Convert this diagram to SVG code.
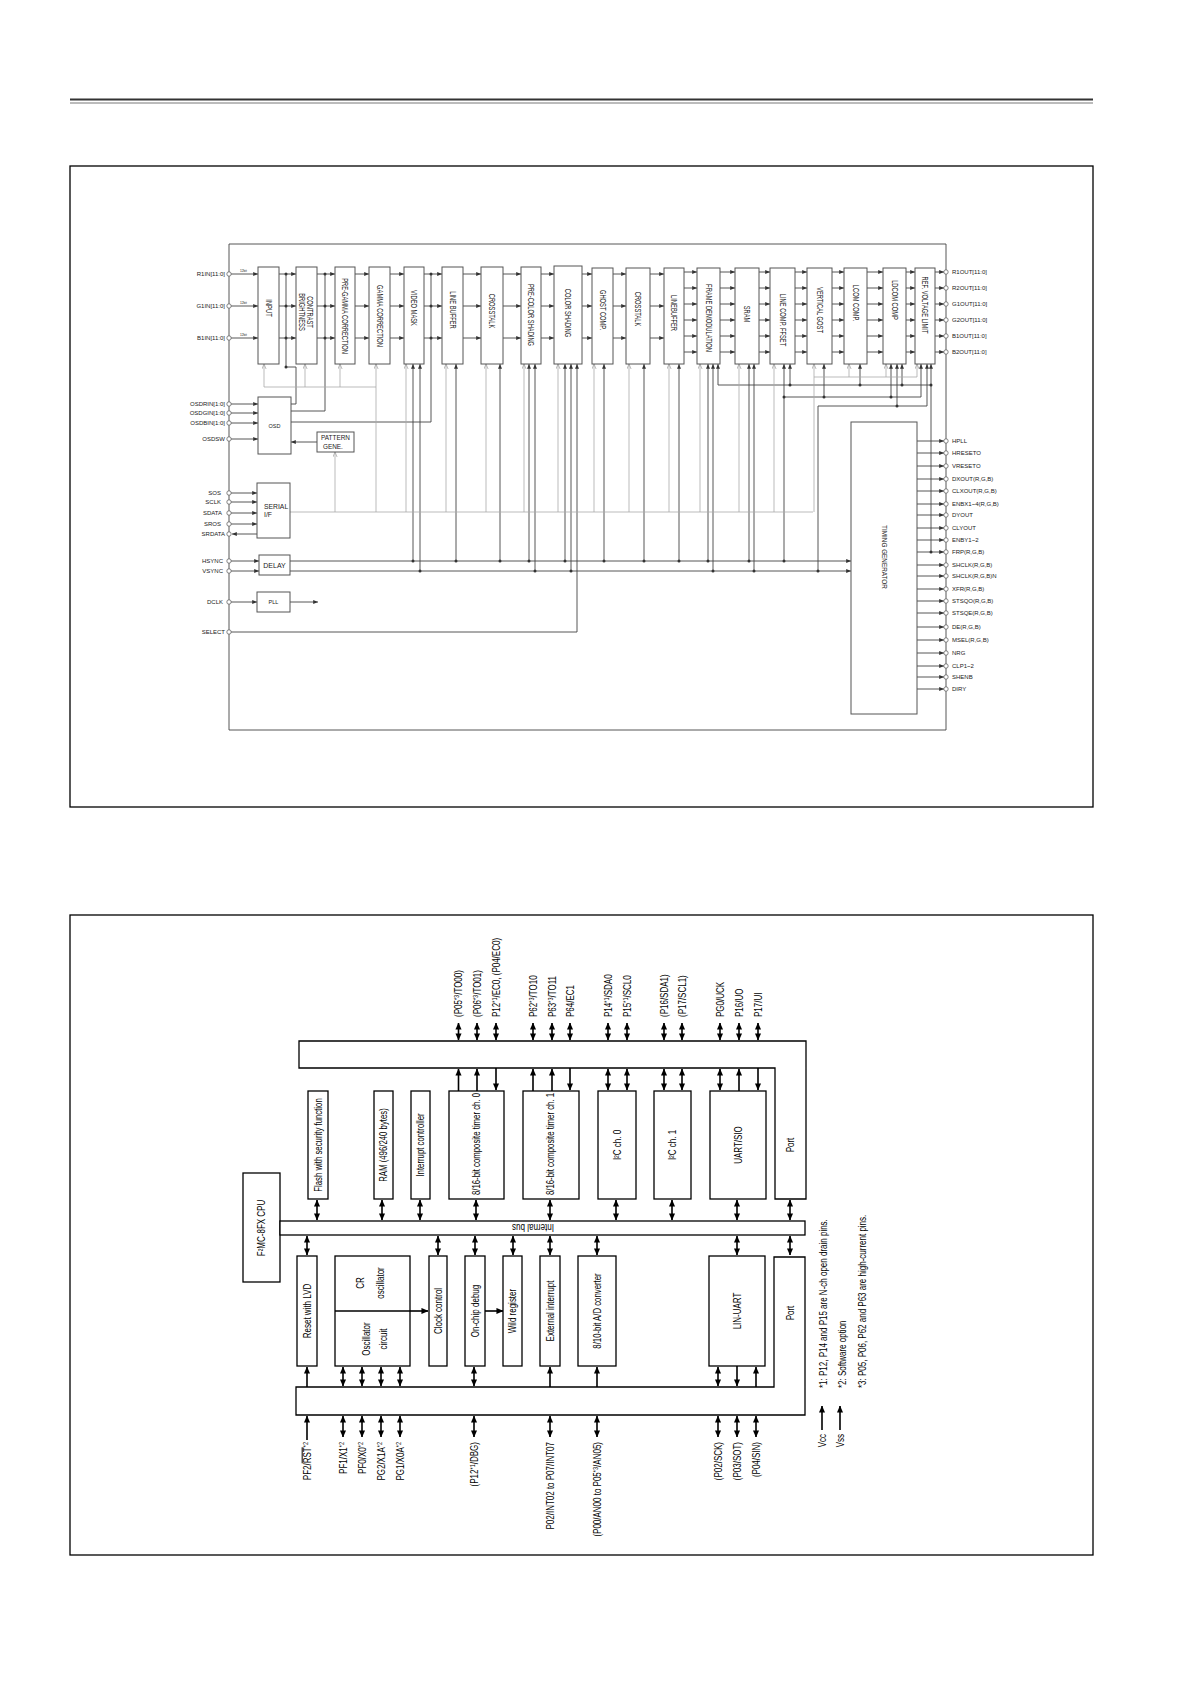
<svg xmlns="http://www.w3.org/2000/svg" width="1191" height="1684" viewBox="0 0 1191 1684">
<defs>
<style>
.frame{fill:none;stroke:#000;stroke-width:1.3}
.tb{fill:#fff;stroke:#555;stroke-width:1}
.tl{fill:none;stroke:#444;stroke-width:0.9}
.tg{fill:none;stroke:#aaa;stroke-width:0.8}
.tt{font-family:"Liberation Sans",Arial,sans-serif;font-size:6px;fill:#222}
.bl{font-family:"Liberation Sans",Arial,sans-serif;font-size:8.5px;fill:#222}
.bb{fill:#fff;stroke:#000;stroke-width:1.3}
.bt{font-family:"Liberation Sans",Arial,sans-serif;font-size:10px;fill:#000}
.ar{fill:none;stroke:#000;stroke-width:1.6}
.dot{fill:#333}
.pin{fill:#fff;stroke:#555;stroke-width:0.7}
</style>
<marker id="ta" viewBox="0 0 6 5" refX="6" refY="2.5" markerWidth="5" markerHeight="4" markerUnits="userSpaceOnUse" orient="auto"><path d="M0,0L6,2.5L0,5z" fill="#333"/></marker>
<marker id="to" viewBox="0 0 6 6" refX="6" refY="3" markerWidth="5" markerHeight="5" markerUnits="userSpaceOnUse" orient="auto"><path d="M0,0.5L6,3L0,5.5" fill="none" stroke="#999" stroke-width="0.8"/></marker>
<marker id="ba" viewBox="0 0 8 8" refX="7.5" refY="4" markerWidth="7" markerHeight="7" markerUnits="userSpaceOnUse" orient="auto-start-reverse"><path d="M0,0.5L8,4L0,7.5z" fill="#000"/></marker>
</defs>
<rect width="1191" height="1684" fill="#fff"/>
<!-- page header -->
<line x1="70" y1="99.5" x2="1093" y2="99.5" stroke="#333" stroke-width="2"/>
<line x1="70" y1="103" x2="1093" y2="103" stroke="#555" stroke-width="0.8"/>
<rect class="frame" x="70" y="166" width="1023" height="641"/>
<rect class="frame" x="70" y="915" width="1023" height="640"/>

<!-- ================= TOP DIAGRAM ================= -->
<g id="top-connectors">
 <path class="tl" d="M229,244H946V730H229Z"/>
 <g class="tl" marker-end="url(#ta)">
  <line x1="231" y1="274" x2="258" y2="274"/><line x1="231" y1="306" x2="258" y2="306"/><line x1="231" y1="338" x2="258" y2="338"/>
  <line x1="231" y1="404" x2="258" y2="404"/><line x1="231" y1="413" x2="258" y2="413"/><line x1="231" y1="423" x2="258" y2="423"/><line x1="231" y1="439" x2="258" y2="439"/>
  <line x1="231" y1="493" x2="257" y2="493"/><line x1="231" y1="502" x2="257" y2="502"/><line x1="231" y1="513" x2="257" y2="513"/><line x1="231" y1="524" x2="257" y2="524"/>
  <line x1="257" y1="534" x2="232" y2="534"/>
  <line x1="231" y1="561" x2="259" y2="561"/><line x1="231" y1="571" x2="259" y2="571"/>
  <line x1="231" y1="602" x2="257" y2="602"/>
  <line x1="290" y1="602" x2="318" y2="602"/>
  <line x1="317" y1="442" x2="291" y2="442"/>
  <line x1="279" y1="274" x2="296" y2="274"/><line x1="279" y1="306" x2="296" y2="306"/><line x1="279" y1="338" x2="296" y2="338"/>
  <line x1="317" y1="274" x2="335" y2="274"/><line x1="317" y1="306" x2="335" y2="306"/><line x1="317" y1="338" x2="335" y2="338"/>
  <line x1="355" y1="274" x2="369" y2="274"/><line x1="355" y1="306" x2="369" y2="306"/><line x1="355" y1="338" x2="369" y2="338"/>
  <line x1="390" y1="274" x2="404" y2="274"/><line x1="390" y1="306" x2="404" y2="306"/><line x1="390" y1="338" x2="404" y2="338"/>
  <line x1="424" y1="274" x2="442" y2="274"/><line x1="424" y1="306" x2="442" y2="306"/><line x1="424" y1="338" x2="442" y2="338"/>
  <line x1="463" y1="274" x2="481" y2="274"/><line x1="463" y1="306" x2="481" y2="306"/><line x1="463" y1="338" x2="481" y2="338"/>
  <line x1="503" y1="274" x2="521" y2="274"/><line x1="503" y1="306" x2="521" y2="306"/><line x1="503" y1="338" x2="521" y2="338"/>
  <line x1="541" y1="274" x2="554" y2="274"/><line x1="541" y1="306" x2="554" y2="306"/><line x1="541" y1="338" x2="554" y2="338"/>
  <line x1="582" y1="274" x2="592" y2="274"/><line x1="582" y1="306" x2="592" y2="306"/><line x1="582" y1="338" x2="592" y2="338"/>
  <line x1="613" y1="274" x2="626" y2="274"/><line x1="613" y1="306" x2="626" y2="306"/><line x1="613" y1="338" x2="626" y2="338"/>
  <line x1="650" y1="274" x2="664" y2="274"/><line x1="650" y1="306" x2="664" y2="306"/><line x1="650" y1="338" x2="664" y2="338"/>
  <line x1="684" y1="272" x2="697" y2="272"/><line x1="684" y1="288" x2="697" y2="288"/><line x1="684" y1="304" x2="697" y2="304"/><line x1="684" y1="320" x2="697" y2="320"/><line x1="684" y1="336" x2="697" y2="336"/><line x1="684" y1="352" x2="697" y2="352"/>
  <line x1="720" y1="272" x2="735" y2="272"/><line x1="720" y1="288" x2="735" y2="288"/><line x1="720" y1="304" x2="735" y2="304"/><line x1="720" y1="320" x2="735" y2="320"/><line x1="720" y1="336" x2="735" y2="336"/><line x1="720" y1="352" x2="735" y2="352"/>
  <line x1="759" y1="272" x2="770" y2="272"/><line x1="759" y1="288" x2="770" y2="288"/><line x1="759" y1="304" x2="770" y2="304"/><line x1="759" y1="320" x2="770" y2="320"/><line x1="759" y1="336" x2="770" y2="336"/><line x1="759" y1="352" x2="770" y2="352"/>
  <line x1="795" y1="272" x2="807" y2="272"/><line x1="795" y1="288" x2="807" y2="288"/><line x1="795" y1="304" x2="807" y2="304"/><line x1="795" y1="320" x2="807" y2="320"/><line x1="795" y1="336" x2="807" y2="336"/><line x1="795" y1="352" x2="807" y2="352"/>
  <line x1="832" y1="272" x2="844" y2="272"/><line x1="832" y1="288" x2="844" y2="288"/><line x1="832" y1="304" x2="844" y2="304"/><line x1="832" y1="320" x2="844" y2="320"/><line x1="832" y1="336" x2="844" y2="336"/><line x1="832" y1="352" x2="844" y2="352"/>
  <line x1="867" y1="272" x2="883" y2="272"/><line x1="867" y1="288" x2="883" y2="288"/><line x1="867" y1="304" x2="883" y2="304"/><line x1="867" y1="320" x2="883" y2="320"/><line x1="867" y1="336" x2="883" y2="336"/><line x1="867" y1="352" x2="883" y2="352"/>
  <line x1="906" y1="272" x2="915" y2="272"/><line x1="906" y1="288" x2="915" y2="288"/><line x1="906" y1="304" x2="915" y2="304"/><line x1="906" y1="320" x2="915" y2="320"/><line x1="906" y1="336" x2="915" y2="336"/><line x1="906" y1="352" x2="915" y2="352"/>
  <line x1="935" y1="272" x2="944" y2="272"/><line x1="935" y1="288" x2="944" y2="288"/><line x1="935" y1="304" x2="944" y2="304"/><line x1="935" y1="320" x2="944" y2="320"/><line x1="935" y1="336" x2="944" y2="336"/><line x1="935" y1="352" x2="944" y2="352"/>
  <line x1="290" y1="561" x2="851" y2="561"/><line x1="290" y1="571" x2="851" y2="571"/>
  <path d="M231,632H577V364"/>
  <line x1="413" y1="561" x2="413" y2="364"/><line x1="420" y1="571" x2="420" y2="364"/>
  <line x1="456" y1="561" x2="456" y2="364"/><line x1="500" y1="561" x2="500" y2="364"/>
  <line x1="529" y1="561" x2="529" y2="364"/><line x1="535" y1="571" x2="535" y2="364"/>
  <line x1="565" y1="561" x2="565" y2="364"/><line x1="571" y1="571" x2="571" y2="364"/>
  <line x1="604" y1="561" x2="604" y2="364"/><line x1="644" y1="561" x2="644" y2="364"/>
  <line x1="679" y1="561" x2="679" y2="364"/><line x1="708" y1="561" x2="708" y2="364"/>
  <line x1="713" y1="571" x2="713" y2="364"/><line x1="718" y1="385" x2="718" y2="364"/>
  <line x1="749" y1="561" x2="749" y2="364"/><line x1="754" y1="571" x2="754" y2="364"/>
  <line x1="784" y1="561" x2="784" y2="364"/><line x1="790" y1="385" x2="790" y2="364"/>
  <line x1="824" y1="397" x2="824" y2="364"/><line x1="860" y1="385" x2="860" y2="364"/>
  <line x1="891" y1="397" x2="891" y2="364"/><line x1="897" y1="406" x2="897" y2="364"/>
  <line x1="902" y1="385" x2="902" y2="364"/><line x1="921" y1="397" x2="921" y2="364"/>
  <line x1="927" y1="406" x2="927" y2="364"/><line x1="931" y1="552" x2="931" y2="364"/>
  <line x1="917" y1="441" x2="944" y2="441"/><line x1="917" y1="453" x2="944" y2="453"/><line x1="917" y1="466" x2="944" y2="466"/>
  <line x1="917" y1="479" x2="944" y2="479"/><line x1="917" y1="491" x2="944" y2="491"/><line x1="917" y1="504" x2="944" y2="504"/>
  <line x1="917" y1="515" x2="944" y2="515"/><line x1="917" y1="528" x2="944" y2="528"/><line x1="917" y1="540" x2="944" y2="540"/>
  <line x1="917" y1="552" x2="944" y2="552"/><line x1="917" y1="565" x2="944" y2="565"/><line x1="917" y1="576" x2="944" y2="576"/>
  <line x1="917" y1="589" x2="944" y2="589"/><line x1="917" y1="601" x2="944" y2="601"/><line x1="917" y1="613" x2="944" y2="613"/>
  <line x1="917" y1="627" x2="944" y2="627"/><line x1="917" y1="640" x2="944" y2="640"/><line x1="917" y1="653" x2="944" y2="653"/>
  <line x1="917" y1="666" x2="944" y2="666"/><line x1="917" y1="677" x2="944" y2="677"/><line x1="917" y1="689" x2="944" y2="689"/>
 </g>
 <g class="tl">
  <path d="M718,385H931M784,397H921M818,406H927M818,406V571"/>
  <path d="M286,274V367H296V404H291"/>
  <path d="M325,274V411H291"/>
  <path d="M431,274V422H291"/>
 </g>
 <g class="tg">
  <path d="M290,512H813"/>
  <path d="M376,387H264M814,377H917"/>
 </g>
 <g class="tg" marker-end="url(#to)">
  <line x1="335" y1="512" x2="335" y2="452"/>
  <line x1="264" y1="387" x2="264" y2="364"/><line x1="305" y1="387" x2="305" y2="364"/><line x1="340" y1="387" x2="340" y2="364"/>
  <line x1="376" y1="512" x2="376" y2="364"/><line x1="406" y1="512" x2="406" y2="364"/><line x1="446" y1="512" x2="446" y2="364"/>
  <line x1="486" y1="512" x2="486" y2="364"/><line x1="524" y1="512" x2="524" y2="364"/><line x1="558" y1="512" x2="558" y2="364"/>
  <line x1="594" y1="512" x2="594" y2="364"/><line x1="629" y1="512" x2="629" y2="364"/><line x1="669" y1="512" x2="669" y2="364"/>
  <line x1="700" y1="512" x2="700" y2="364"/><line x1="739" y1="512" x2="739" y2="364"/><line x1="774" y1="512" x2="774" y2="364"/>
  <line x1="814" y1="512" x2="814" y2="364"/>
  <line x1="849" y1="377" x2="849" y2="364"/><line x1="886" y1="377" x2="886" y2="364"/><line x1="917" y1="377" x2="917" y2="364"/>
 </g>
 <g class="dot">
  <circle cx="286" cy="274" r="1.5"/><circle cx="286" cy="306" r="1.5"/><circle cx="286" cy="338" r="1.5"/><circle cx="286" cy="367" r="1.5"/>
  <circle cx="325" cy="274" r="1.5"/><circle cx="325" cy="306" r="1.5"/><circle cx="325" cy="338" r="1.5"/>
  <circle cx="431" cy="274" r="1.5"/><circle cx="431" cy="306" r="1.5"/><circle cx="431" cy="338" r="1.5"/>
  <circle cx="413" cy="561" r="1.5"/><circle cx="456" cy="561" r="1.5"/><circle cx="500" cy="561" r="1.5"/><circle cx="529" cy="561" r="1.5"/>
  <circle cx="565" cy="561" r="1.5"/><circle cx="604" cy="561" r="1.5"/><circle cx="644" cy="561" r="1.5"/><circle cx="679" cy="561" r="1.5"/>
  <circle cx="708" cy="561" r="1.5"/><circle cx="749" cy="561" r="1.5"/><circle cx="784" cy="561" r="1.5"/>
  <circle cx="420" cy="571" r="1.5"/><circle cx="535" cy="571" r="1.5"/><circle cx="571" cy="571" r="1.5"/><circle cx="713" cy="571" r="1.5"/>
  <circle cx="754" cy="571" r="1.5"/><circle cx="818" cy="571" r="1.5"/>
  <circle cx="790" cy="385" r="1.5"/><circle cx="860" cy="385" r="1.5"/><circle cx="902" cy="385" r="1.5"/><circle cx="931" cy="385" r="1.5"/>
  <circle cx="784" cy="397" r="1.5"/><circle cx="824" cy="397" r="1.5"/><circle cx="891" cy="397" r="1.5"/>
  <circle cx="897" cy="406" r="1.5"/><circle cx="931" cy="552" r="1.5"/>
 </g>
 <g class="pin">
  <circle cx="229" cy="274" r="2.2"/><circle cx="229" cy="306" r="2.2"/><circle cx="229" cy="338" r="2.2"/>
  <circle cx="229" cy="404" r="2.2"/><circle cx="229" cy="413" r="2.2"/><circle cx="229" cy="423" r="2.2"/><circle cx="229" cy="439" r="2.2"/>
  <circle cx="229" cy="493" r="2.2"/><circle cx="229" cy="502" r="2.2"/><circle cx="229" cy="513" r="2.2"/><circle cx="229" cy="524" r="2.2"/><circle cx="229" cy="534" r="2.2"/>
  <circle cx="229" cy="561" r="2.2"/><circle cx="229" cy="571" r="2.2"/><circle cx="229" cy="602" r="2.2"/><circle cx="229" cy="632" r="2.2"/>
  <circle cx="946" cy="272" r="2.2"/><circle cx="946" cy="288" r="2.2"/><circle cx="946" cy="304" r="2.2"/><circle cx="946" cy="320" r="2.2"/><circle cx="946" cy="336" r="2.2"/><circle cx="946" cy="352" r="2.2"/>
  <circle cx="946" cy="441" r="2.2"/><circle cx="946" cy="453" r="2.2"/><circle cx="946" cy="466" r="2.2"/><circle cx="946" cy="479" r="2.2"/><circle cx="946" cy="491" r="2.2"/>
  <circle cx="946" cy="504" r="2.2"/><circle cx="946" cy="515" r="2.2"/><circle cx="946" cy="528" r="2.2"/><circle cx="946" cy="540" r="2.2"/><circle cx="946" cy="552" r="2.2"/>
  <circle cx="946" cy="565" r="2.2"/><circle cx="946" cy="576" r="2.2"/><circle cx="946" cy="589" r="2.2"/><circle cx="946" cy="601" r="2.2"/><circle cx="946" cy="613" r="2.2"/>
  <circle cx="946" cy="627" r="2.2"/><circle cx="946" cy="640" r="2.2"/><circle cx="946" cy="653" r="2.2"/><circle cx="946" cy="666" r="2.2"/><circle cx="946" cy="677" r="2.2"/><circle cx="946" cy="689" r="2.2"/>
 </g>
</g>

<g id="top-pin-labels" class="tt">
 <g text-anchor="end">
  <text x="225" y="276">R1IN[11:0]</text><text x="225" y="308">G1IN[11:0]</text><text x="225" y="340">B1IN[11:0]</text>
  <text x="225" y="406">OSDRIN[1:0]</text><text x="225" y="415">OSDGIN[1:0]</text><text x="225" y="425">OSDBIN[1:0]</text><text x="225" y="441">OSDSW</text>
  <text x="221" y="495">SOS</text><text x="221" y="504">SCLK</text><text x="222" y="515">SDATA</text><text x="221" y="526">SROS</text><text x="225" y="536">SRDATA</text>
  <text x="223" y="563">HSYNC</text><text x="223" y="573">VSYNC</text><text x="223" y="604">DCLK</text><text x="225" y="634">SELECT</text>
 </g>
 <g style="font-size:3.2px">
  <text x="240" y="272">12bit</text><text x="240" y="304">12bit</text><text x="240" y="336">12bit</text>
 </g>
 <text x="952" y="274">R1OUT[11:0]</text><text x="952" y="290">R2OUT[11:0]</text><text x="952" y="306">G1OUT[11:0]</text>
 <text x="952" y="322">G2OUT[11:0]</text><text x="952" y="338">B1OUT[11:0]</text><text x="952" y="354">B2OUT[11:0]</text>
 <text x="952" y="443">HPLL</text><text x="952" y="455">HRESETO</text><text x="952" y="468">VRESETO</text>
 <text x="952" y="481">DXOUT(R,G,B)</text><text x="952" y="493">CLXOUT(R,G,B)</text><text x="952" y="506">ENBX1~4(R,G,B)</text>
 <text x="952" y="517">DYOUT</text><text x="952" y="530">CLYOUT</text><text x="952" y="542">ENBY1~2</text>
 <text x="952" y="554">FRP(R,G,B)</text><text x="952" y="567">SHCLK(R,G,B)</text><text x="952" y="578">SHCLK(R,G,B)N</text>
 <text x="952" y="591">XFR(R,G,B)</text><text x="952" y="603">STSQO(R,G,B)</text><text x="952" y="615">STSQE(R,G,B)</text>
 <text x="952" y="629">DE(R,G,B)</text><text x="952" y="642">MSEL(R,G,B)</text><text x="952" y="655">NRG</text>
 <text x="952" y="668">CLP1~2</text><text x="952" y="679">SHENB</text><text x="952" y="691">DIRY</text>
</g>

<g id="t-input"><rect class="tb" x="258" y="267" width="21" height="97"/><text class="bl" text-anchor="middle" dy="0.35em" transform="translate(268.5,308) rotate(90) scale(0.68,1)">INPUT</text></g>
<g id="t-contrast"><rect class="tb" x="296" y="267" width="21" height="97"/><text class="bl" text-anchor="middle" dy="0.35em" transform="translate(310,312) rotate(90) scale(0.68,1)">CONTRAST</text><text class="bl" text-anchor="middle" dy="0.35em" transform="translate(302,312) rotate(90) scale(0.68,1)">BRIGHTNESS</text></g>
<g id="t-pregamma"><rect class="tb" x="335" y="267" width="20" height="97"/><text class="bl" text-anchor="middle" dy="0.35em" transform="translate(345,316) rotate(90) scale(0.68,1)">PRE-GAMMA CORRECTION</text></g>
<g id="t-gamma"><rect class="tb" x="369" y="267" width="21" height="97"/><text class="bl" text-anchor="middle" dy="0.35em" transform="translate(379.5,316) rotate(90) scale(0.68,1)">GAMMA CORRECTION</text></g>
<g id="t-videomask"><rect class="tb" x="404" y="267" width="20" height="97"/><text class="bl" text-anchor="middle" dy="0.35em" transform="translate(414,308) rotate(90) scale(0.68,1)">VIDEO MASK</text></g>
<g id="t-linebuffer"><rect class="tb" x="442" y="267" width="21" height="97"/><text class="bl" text-anchor="middle" dy="0.35em" transform="translate(452.5,310) rotate(90) scale(0.68,1)">LINE BUFFER</text></g>
<g id="t-crosstalk1"><rect class="tb" x="481" y="267" width="22" height="97"/><text class="bl" text-anchor="middle" dy="0.35em" transform="translate(492,311) rotate(90) scale(0.68,1)">CROSSTALK</text></g>
<g id="t-precolor"><rect class="tb" x="521" y="267" width="20" height="97"/><text class="bl" text-anchor="middle" dy="0.35em" transform="translate(531,315) rotate(90) scale(0.68,1)">PRE-COLOR SHADING</text></g>
<g id="t-colorshading"><rect class="tb" x="554" y="266" width="28" height="98"/><text class="bl" text-anchor="middle" dy="0.35em" transform="translate(568,313) rotate(90) scale(0.68,1)">COLOR SHADING</text></g>
<g id="t-ghost"><rect class="tb" x="592" y="268" width="21" height="96"/><text class="bl" text-anchor="middle" dy="0.35em" transform="translate(602.5,310) rotate(90) scale(0.68,1)">GHOST COMP.</text></g>
<g id="t-crosstalk2"><rect class="tb" x="626" y="268" width="24" height="96"/><text class="bl" text-anchor="middle" dy="0.35em" transform="translate(638,309) rotate(90) scale(0.68,1)">CROSSTALK</text></g>
<g id="t-linebuffer2"><rect class="tb" x="664" y="268" width="20" height="96"/><text class="bl" text-anchor="middle" dy="0.35em" transform="translate(674,313) rotate(90) scale(0.68,1)">LINEBUFFER</text></g>
<g id="t-framedemod"><rect class="tb" x="697" y="268" width="23" height="96"/><text class="bl" text-anchor="middle" dy="0.35em" transform="translate(708.5,318) rotate(90) scale(0.68,1)">FRAME DEMODULATION</text></g>
<g id="t-sram"><rect class="tb" x="735" y="268" width="24" height="96"/><text class="bl" text-anchor="middle" dy="0.35em" transform="translate(747,314) rotate(90) scale(0.68,1)">SRAM</text></g>
<g id="t-linecomp"><rect class="tb" x="770" y="268" width="25" height="96"/><text class="bl" text-anchor="middle" dy="0.35em" transform="translate(782.5,320) rotate(90) scale(0.68,1)">LINE COMP. FFSET</text></g>
<g id="t-vertical"><rect class="tb" x="807" y="268" width="25" height="96"/><text class="bl" text-anchor="middle" dy="0.35em" transform="translate(819.5,310) rotate(90) scale(0.68,1)">VERTICAL GOST</text></g>
<g id="t-lcom"><rect class="tb" x="844" y="268" width="23" height="96"/><text class="bl" text-anchor="middle" dy="0.35em" transform="translate(855.5,303) rotate(90) scale(0.68,1)">LCOM COMP.</text></g>
<g id="t-ldcom"><rect class="tb" x="883" y="268" width="23" height="96"/><text class="bl" text-anchor="middle" dy="0.35em" transform="translate(894.5,300) rotate(90) scale(0.68,1)">LDCOM COMP</text></g>
<g id="t-refvolt"><rect class="tb" x="915" y="268" width="20" height="96"/><text class="bl" text-anchor="middle" dy="0.35em" transform="translate(925,305) rotate(90) scale(0.68,1)">REF. VOLTAGE LIMIT</text></g>

<g id="t-osd"><rect class="tb" x="258" y="397" width="33" height="57"/><text class="tt" x="274.5" y="428" text-anchor="middle" style="font-size:5.5px">OSD</text></g>
<g id="t-pattern"><rect class="tb" x="317" y="432" width="37" height="20"/><text class="tt" x="321" y="440" style="font-size:6.4px">PATTERN</text><text class="tt" x="323" y="449" style="font-size:6.4px">GENE.</text></g>
<g id="t-serial"><rect class="tb" x="257" y="483" width="33" height="55"/><text class="tt" x="264" y="509" style="font-size:6.8px">SERIAL</text><text class="tt" x="264" y="517" style="font-size:6.8px">I/F</text></g>
<g id="t-delay"><rect class="tb" x="259" y="555" width="31" height="20"/><text class="tt" x="274.5" y="568" text-anchor="middle" style="font-size:7px">DELAY</text></g>
<g id="t-pll"><rect class="tb" x="257" y="592" width="33" height="20"/><text class="tt" x="273.5" y="604" text-anchor="middle" style="font-size:5.5px">PLL</text></g>
<g id="t-timing"><rect class="tb" x="851" y="422" width="66" height="292"/><text class="tt" text-anchor="middle" dy="0.35em" style="font-size:7.5px" transform="translate(885,557) rotate(90) scale(0.85,1)">TIMING GENERATOR</text></g>

<!-- ================= BOTTOM DIAGRAM ================= -->
<g id="bottom-connectors">
 <path class="bb" d="M299,1041H806V1199H775V1068H299Z"/>
 <path class="bb" d="M774,1257H805V1415H296V1387H774Z"/>
 <g class="ar" marker-start="url(#ba)" marker-end="url(#ba)">
  <line x1="458.5" y1="1023" x2="458.5" y2="1040"/><line x1="477" y1="1023" x2="477" y2="1040"/><line x1="496" y1="1023" x2="496" y2="1040"/>
  <line x1="533" y1="1023" x2="533" y2="1040"/><line x1="552" y1="1023" x2="552" y2="1040"/><line x1="570" y1="1023" x2="570" y2="1040"/>
  <line x1="608" y1="1023" x2="608" y2="1040"/><line x1="627" y1="1023" x2="627" y2="1040"/><line x1="664" y1="1023" x2="664" y2="1040"/>
  <line x1="682" y1="1023" x2="682" y2="1040"/><line x1="720" y1="1023" x2="720" y2="1040"/><line x1="739" y1="1023" x2="739" y2="1040"/>
  <line x1="758" y1="1023" x2="758" y2="1040"/>
  <line x1="608" y1="1069" x2="608" y2="1090"/><line x1="627" y1="1069" x2="627" y2="1090"/><line x1="664" y1="1069" x2="664" y2="1090"/>
  <line x1="682" y1="1069" x2="682" y2="1090"/><line x1="720" y1="1069" x2="720" y2="1090"/>
  <line x1="317" y1="1200" x2="317" y2="1220"/><line x1="382" y1="1200" x2="382" y2="1220"/><line x1="420" y1="1200" x2="420" y2="1220"/>
  <line x1="476" y1="1200" x2="476" y2="1220"/><line x1="550" y1="1200" x2="550" y2="1220"/><line x1="616" y1="1200" x2="616" y2="1220"/>
  <line x1="672" y1="1200" x2="672" y2="1220"/><line x1="737" y1="1200" x2="737" y2="1220"/><line x1="790" y1="1200" x2="790" y2="1220"/>
  <line x1="307" y1="1236" x2="307" y2="1255"/><line x1="438" y1="1236" x2="438" y2="1255"/><line x1="475" y1="1236" x2="475" y2="1255"/>
  <line x1="513" y1="1236" x2="513" y2="1255"/><line x1="550" y1="1236" x2="550" y2="1255"/><line x1="597" y1="1236" x2="597" y2="1255"/>
  <line x1="737" y1="1236" x2="737" y2="1255"/><line x1="790" y1="1236" x2="790" y2="1255"/>
  <line x1="343" y1="1367" x2="343" y2="1386"/><line x1="362" y1="1367" x2="362" y2="1386"/><line x1="381" y1="1367" x2="381" y2="1386"/>
  <line x1="400" y1="1367" x2="400" y2="1386"/><line x1="474" y1="1367" x2="474" y2="1386"/><line x1="718" y1="1367" x2="718" y2="1386"/>
  <line x1="343" y1="1416" x2="343" y2="1437"/><line x1="362" y1="1416" x2="362" y2="1437"/><line x1="381" y1="1416" x2="381" y2="1437"/>
  <line x1="400" y1="1416" x2="400" y2="1437"/><line x1="474" y1="1416" x2="474" y2="1437"/><line x1="550" y1="1416" x2="550" y2="1437"/>
  <line x1="597" y1="1416" x2="597" y2="1437"/><line x1="718" y1="1416" x2="718" y2="1437"/><line x1="737" y1="1416" x2="737" y2="1437"/>
  <line x1="756" y1="1416" x2="756" y2="1437"/>
 </g>
 <g class="ar" marker-end="url(#ba)">
  <line x1="458.5" y1="1091" x2="458.5" y2="1069"/><line x1="477" y1="1091" x2="477" y2="1069"/>
  <line x1="533" y1="1091" x2="533" y2="1069"/><line x1="552" y1="1091" x2="552" y2="1069"/>
  <line x1="739" y1="1091" x2="739" y2="1069"/>
  <line x1="496" y1="1068" x2="496" y2="1090"/><line x1="570" y1="1068" x2="570" y2="1090"/><line x1="758" y1="1068" x2="758" y2="1090"/>
  <line x1="307" y1="1387" x2="307" y2="1367"/><line x1="550" y1="1387" x2="550" y2="1367"/><line x1="597" y1="1387" x2="597" y2="1367"/>
  <line x1="756" y1="1387" x2="756" y2="1367"/><line x1="737" y1="1366" x2="737" y2="1386"/>
  <line x1="307" y1="1440" x2="307" y2="1416"/>
  <line x1="410" y1="1311" x2="428" y2="1311"/><line x1="485" y1="1311" x2="503" y2="1311"/>
  <line x1="822" y1="1430" x2="822" y2="1406"/><line x1="840" y1="1430" x2="840" y2="1406"/>
 </g>
</g>

<g id="b-cpu"><rect class="bb" x="243" y="1173" width="37" height="109"/><text class="bt" text-anchor="middle" dy="0.35em" transform="translate(261.5,1228) rotate(-90) scale(0.8,1)">F²MC-8FX CPU</text></g>
<g id="b-bus"><rect class="bb" x="280" y="1221" width="525" height="14"/><text class="bt" text-anchor="middle" dy="0.35em" transform="translate(533,1228) rotate(180) scale(0.8,1)">Internal bus</text></g>
<g id="b-flash"><rect class="bb" x="308" y="1091" width="20" height="108"/><text class="bt" text-anchor="middle" dy="0.35em" transform="translate(318,1145) rotate(-90) scale(0.78,1)">Flash with security function</text></g>
<g id="b-ram"><rect class="bb" x="374" y="1091" width="19" height="108"/><text class="bt" text-anchor="middle" dy="0.35em" transform="translate(383.5,1145) rotate(-90) scale(0.78,1)">RAM (496/240 bytes)</text></g>
<g id="b-intc"><rect class="bb" x="411" y="1091" width="19" height="108"/><text class="bt" text-anchor="middle" dy="0.35em" transform="translate(420.5,1145) rotate(-90) scale(0.78,1)">Interrupt controller</text></g>
<g id="b-timer0"><rect class="bb" x="449" y="1091" width="55" height="108"/><text class="bt" text-anchor="middle" dy="0.35em" transform="translate(476,1144) rotate(-90) scale(0.78,1)">8/16-bit composite timer ch. 0</text></g>
<g id="b-timer1"><rect class="bb" x="523" y="1091" width="56" height="108"/><text class="bt" text-anchor="middle" dy="0.35em" transform="translate(550,1144) rotate(-90) scale(0.78,1)">8/16-bit composite timer ch. 1</text></g>
<g id="b-i2c0"><rect class="bb" x="598" y="1091" width="38" height="108"/><text class="bt" text-anchor="middle" dy="0.35em" transform="translate(617,1145) rotate(-90) scale(0.8,1)">I²C ch. 0</text></g>
<g id="b-i2c1"><rect class="bb" x="654" y="1091" width="37" height="108"/><text class="bt" text-anchor="middle" dy="0.35em" transform="translate(672.5,1145) rotate(-90) scale(0.8,1)">I²C ch. 1</text></g>
<g id="b-uart"><rect class="bb" x="710" y="1091" width="56" height="108"/><text class="bt" text-anchor="middle" dy="0.35em" transform="translate(738,1145) rotate(-90) scale(0.8,1)">UART/SIO</text></g>
<g id="b-port1"><text class="bt" text-anchor="middle" dy="0.35em" transform="translate(790.5,1145) rotate(-90) scale(0.8,1)">Port</text></g>
<g id="b-reset"><rect class="bb" x="297" y="1256" width="20" height="110"/><text class="bt" text-anchor="middle" dy="0.35em" transform="translate(307,1311) rotate(-90) scale(0.8,1)">Reset with LVD</text></g>
<g id="b-osc"><rect class="bb" x="335" y="1256" width="75" height="110"/><line x1="335" y1="1311" x2="410" y2="1311" stroke="#000" stroke-width="1.6"/>
 <text class="bt" text-anchor="middle" dy="0.35em" transform="translate(360,1283) rotate(-90) scale(0.8,1)">CR</text>
 <text class="bt" text-anchor="middle" dy="0.35em" transform="translate(380,1283) rotate(-90) scale(0.8,1)">oscillator</text>
 <text class="bt" text-anchor="middle" dy="0.35em" transform="translate(366,1339) rotate(-90) scale(0.8,1)">Oscillator</text>
 <text class="bt" text-anchor="middle" dy="0.35em" transform="translate(383,1339) rotate(-90) scale(0.8,1)">circuit</text></g>
<g id="b-clock"><rect class="bb" x="429" y="1256" width="18" height="110"/><text class="bt" text-anchor="middle" dy="0.35em" transform="translate(438,1311) rotate(-90) scale(0.8,1)">Clock control</text></g>
<g id="b-debug"><rect class="bb" x="465" y="1256" width="20" height="110"/><text class="bt" text-anchor="middle" dy="0.35em" transform="translate(475,1311) rotate(-90) scale(0.8,1)">On-chip debug</text></g>
<g id="b-wild"><rect class="bb" x="503" y="1256" width="19" height="110"/><text class="bt" text-anchor="middle" dy="0.35em" transform="translate(512.5,1311) rotate(-90) scale(0.8,1)">Wild register</text></g>
<g id="b-extint"><rect class="bb" x="540" y="1256" width="20" height="110"/><text class="bt" text-anchor="middle" dy="0.35em" transform="translate(550,1311) rotate(-90) scale(0.8,1)">External interrupt</text></g>
<g id="b-adc"><rect class="bb" x="578" y="1256" width="38" height="110"/><text class="bt" text-anchor="middle" dy="0.35em" transform="translate(597,1311) rotate(-90) scale(0.78,1)">8/10-bit A/D converter</text></g>
<g id="b-linuart"><rect class="bb" x="709" y="1256" width="56" height="110"/><text class="bt" text-anchor="middle" dy="0.35em" transform="translate(737,1311) rotate(-90) scale(0.8,1)">LIN-UART</text></g>
<g id="b-port2"><text class="bt" text-anchor="middle" dy="0.35em" transform="translate(790,1313) rotate(-90) scale(0.8,1)">Port</text></g>

<g id="bottom-pin-labels" class="bt">
 <g>
  <text dy="0.35em" transform="translate(458.5,1017) rotate(-90) scale(0.8,1)">(P05<tspan font-size="7" dy="-3">*3</tspan><tspan dy="3">/TO00)</tspan></text>
  <text dy="0.35em" transform="translate(477,1017) rotate(-90) scale(0.8,1)">(P06<tspan font-size="7" dy="-3">*3</tspan><tspan dy="3">/TO01)</tspan></text>
  <text dy="0.35em" transform="translate(496,1017) rotate(-90) scale(0.8,1)">P12<tspan font-size="7" dy="-3">*1</tspan><tspan dy="3">/EC0, (P04/EC0)</tspan></text>
  <text dy="0.35em" transform="translate(533,1017) rotate(-90) scale(0.8,1)">P62<tspan font-size="7" dy="-3">*3</tspan><tspan dy="3">/TO10</tspan></text>
  <text dy="0.35em" transform="translate(552,1017) rotate(-90) scale(0.8,1)">P63<tspan font-size="7" dy="-3">*3</tspan><tspan dy="3">/TO11</tspan></text>
  <text dy="0.35em" transform="translate(570,1017) rotate(-90) scale(0.8,1)">P64/EC1</text>
  <text dy="0.35em" transform="translate(608,1017) rotate(-90) scale(0.8,1)">P14<tspan font-size="7" dy="-3">*1</tspan><tspan dy="3">/SDA0</tspan></text>
  <text dy="0.35em" transform="translate(627,1017) rotate(-90) scale(0.8,1)">P15<tspan font-size="7" dy="-3">*1</tspan><tspan dy="3">/SCL0</tspan></text>
  <text dy="0.35em" transform="translate(664,1017) rotate(-90) scale(0.8,1)">(P16/SDA1)</text>
  <text dy="0.35em" transform="translate(682,1017) rotate(-90) scale(0.8,1)">(P17/SCL1)</text>
  <text dy="0.35em" transform="translate(720,1017) rotate(-90) scale(0.8,1)">PG0/UCK</text>
  <text dy="0.35em" transform="translate(739,1017) rotate(-90) scale(0.8,1)">P16/UO</text>
  <text dy="0.35em" transform="translate(758,1017) rotate(-90) scale(0.8,1)">P17/UI</text>
 </g>
 <g text-anchor="end">
  <text dy="0.35em" transform="translate(307,1442) rotate(-90) scale(0.8,1)">PF2/<tspan text-decoration="overline">RST</tspan><tspan font-size="7" dy="-3">*2</tspan></text>
  <text dy="0.35em" transform="translate(343,1442) rotate(-90) scale(0.8,1)">PF1/X1<tspan font-size="7" dy="-3">*2</tspan></text>
  <text dy="0.35em" transform="translate(362,1442) rotate(-90) scale(0.8,1)">PF0/X0<tspan font-size="7" dy="-3">*2</tspan></text>
  <text dy="0.35em" transform="translate(381,1442) rotate(-90) scale(0.8,1)">PG2/X1A<tspan font-size="7" dy="-3">*2</tspan></text>
  <text dy="0.35em" transform="translate(400,1442) rotate(-90) scale(0.8,1)">PG1/X0A<tspan font-size="7" dy="-3">*2</tspan></text>
  <text dy="0.35em" transform="translate(474,1442) rotate(-90) scale(0.8,1)">(P12<tspan font-size="7" dy="-3">*1</tspan><tspan dy="3">/DBG)</tspan></text>
  <text dy="0.35em" transform="translate(550,1442) rotate(-90) scale(0.8,1)">P02/INT02 to P07/INT07</text>
  <text dy="0.35em" transform="translate(597,1442) rotate(-90) scale(0.8,1)">(P00/AN00 to P05<tspan font-size="7" dy="-3">*3</tspan><tspan dy="3">/AN05)</tspan></text>
  <text dy="0.35em" transform="translate(718,1442) rotate(-90) scale(0.8,1)">(P02/SCK)</text>
  <text dy="0.35em" transform="translate(737,1442) rotate(-90) scale(0.8,1)">(P03/SOT)</text>
  <text dy="0.35em" transform="translate(756,1442) rotate(-90) scale(0.8,1)">(P04/SIN)</text>
  <text dy="0.35em" transform="translate(822,1434) rotate(-90) scale(0.8,1)">Vcc</text>
  <text dy="0.35em" transform="translate(840,1434) rotate(-90) scale(0.8,1)">Vss</text>
 </g>
 <text dy="0.35em" transform="translate(823,1388) rotate(-90) scale(0.8,1)">*1: P12, P14 and P15 are N-ch open drain pins.</text>
 <text dy="0.35em" transform="translate(842,1388) rotate(-90) scale(0.8,1)">*2: Software option</text>
 <text dy="0.35em" transform="translate(862,1388) rotate(-90) scale(0.8,1)">*3: P05, P06, P62 and P63 are high-current pins.</text>
</g>
</svg>
